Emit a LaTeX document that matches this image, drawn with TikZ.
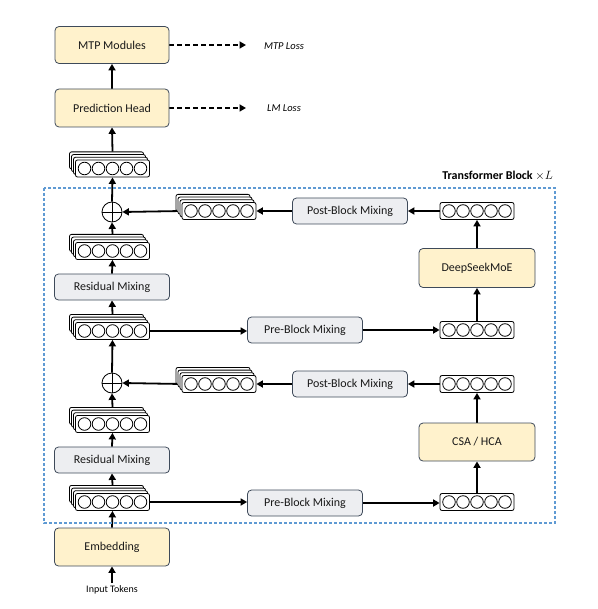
\documentclass[tikz,border=0pt]{standalone}
\usepackage{fontspec}
\setmainfont{Carlito}
\usetikzlibrary{arrows.meta,calc,backgrounds}
\definecolor{yfill}{HTML}{FFF2CC}
\definecolor{gfill}{HTML}{EDEEF1}
\definecolor{bord}{HTML}{3E4A5A}
\definecolor{dashblue}{HTML}{5F9AD3}
\tikzset{
  ybox/.style={draw=bord, fill=yfill, rounded corners=4pt, line width=0.8pt, font=\fontsize{12}{14}\selectfont, text=black!90},
  gbox/.style={draw=bord, fill=gfill, rounded corners=4pt, line width=0.8pt, font=\fontsize{12}{14}\selectfont, text=black!90, minimum width=115pt, minimum height=26pt},
  vecnode/.style={draw=black, fill=white, rounded corners=2pt, line width=0.8pt, minimum width=74pt, minimum height=17pt, inner sep=0pt},
  conn/.style={line width=1.8pt, -{Triangle[length=6.5pt,width=7pt]}},
  dconn/.style={line width=1.8pt, dash pattern=on 5pt off 3pt, -{Triangle[length=6.5pt,width=7pt]}},
  lossl/.style={font=\fontsize{10.5}{12}\selectfont\itshape}
}
\newcommand\singlevec[3]{%
  \node[vecnode] (#1) at (#2,#3) {};
  \foreach \i in {-2,...,2}{\draw[line width=0.8pt] ([xshift=\i*14pt]#1.center) circle (6.3pt);}
}
\newcommand\stackvec[3]{%
  \foreach \k in {3,2,1}{\node[vecnode] at ($(#2,#3)+(-2*\k,-2.7*\k)$) {};}
  \singlevec{#1}{#2}{#3}
}
\begin{document}
\begin{tikzpicture}[x=1pt,y=-1pt]
\useasboundingbox (0,0) rectangle (597,609);
% transformer block frame
\draw[dashblue, line width=1.2pt, dash pattern=on 3pt off 2pt] (44,188) rectangle (555,523);
\node[anchor=south east, inner sep=0pt, font=\fontsize{12}{14}\selectfont\bfseries] (tb) at (553,181) {Transformer Block $\times L$};

% left column boxes
\node[ybox, minimum width=114pt, minimum height=37pt] (mtp) at (112,45) {MTP Modules};
\node[ybox, minimum width=114pt, minimum height=38pt] (ph) at (112,108) {Prediction Head};
\node[lossl] (mtploss) at (284,46) {MTP Loss};
\node[lossl] (lmloss) at (284,108) {LM Loss};
\node[ybox, minimum width=115pt, minimum height=38pt] (emb) at (112,547) {Embedding};
\node[font=\fontsize{10}{12}\selectfont, inner sep=1pt] (inp) at (112,590) {Input Tokens};

\node[gbox] (r2) at (112,287) {Residual Mixing};
\node[gbox] (r1) at (112,460) {Residual Mixing};
\node[gbox] (p2) at (305,330) {Pre-Block Mixing};
\node[gbox] (p1) at (305,503) {Pre-Block Mixing};
\node[gbox] (q2) at (350,211) {Post-Block Mixing};
\node[gbox] (q1) at (350,384) {Post-Block Mixing};
\node[ybox, minimum width=116pt, minimum height=39pt] (moe) at (477,268) {DeepSeekMoE};
\node[ybox, minimum width=116pt, minimum height=38pt] (csa) at (477,442) {CSA / HCA};

% vectors
\stackvec{s5}{112.5}{168.5}
\stackvec{s4}{112.5}{251}
\stackvec{s3}{112.5}{331}
\stackvec{s2}{112.5}{424}
\stackvec{s1}{112.5}{502}
\stackvec{t2}{219}{211}
\stackvec{t1}{219}{384}
\singlevec{v4}{477}{211}
\singlevec{v3}{477}{330}
\singlevec{v2}{477}{384}
\singlevec{v1}{477}{502}

% adders
\foreach \n/\y in {o2/212,o1/383}{
  \node[circle, draw, line width=0.8pt, minimum size=20pt, inner sep=0pt, fill=white] (\n) at (112,\y) {};
  \draw[line width=0.8pt] (\n.north) -- (\n.south) (\n.west) -- (\n.east);
}

\begin{scope}[on background layer]
\draw[conn, shorten <=1.5pt] (inp.north) -- (emb.south);
\draw[conn] (emb.north) -- (s1.south);
\draw[conn] ($(s1.north)+(0,-8)$) -- (r1.south);
\draw[conn] (r1.north) -- (s2.south);
\draw[conn] ($(s2.north)+(0,-8)$) -- (o1.south);
\draw[conn] (o1.north) -- (s3.south);
\draw[conn] ($(s3.north)+(0,-8)$) -- (r2.south);
\draw[conn] (r2.north) -- (s4.south);
\draw[conn] ($(s4.north)+(0,-8)$) -- (o2.south);
\draw[conn] (o2.north) -- (s5.south);
\draw[conn] ($(s5.north)+(0,-8)$) -- (ph.south);
\draw[conn] (ph.north) -- (mtp.south);
\draw[dconn] (mtp.east) -- (mtp.east -| 246,0);
\draw[dconn] (ph.east) -- (ph.east -| 246,0);
% lower block
\draw[conn] (s1.east) -- (s1.east -| p1.west);
\draw[conn] (p1.east) -- (p1.east -| v1.west);
\draw[conn] (v1.north) -- (csa.south);
\draw[conn] (csa.north) -- (v2.south);
\draw[conn] (v2.west) -- (v2.west -| q1.east);
\draw[conn] (q1.west) -- (q1.west -| t1.east);
\draw[conn] (t1.west) -- (o1.east);
% upper block
\draw[conn] (s3.east) -- (s3.east -| p2.west);
\draw[conn] (p2.east) -- (p2.east -| v3.west);
\draw[conn] (v3.north) -- (moe.south);
\draw[conn] (moe.north) -- (v4.south);
\draw[conn] (v4.west) -- (v4.west -| q2.east);
\draw[conn] (q2.west) -- (q2.west -| t2.east);
\draw[conn] (t2.west) -- (o2.east);
\end{scope}
\end{tikzpicture}
\end{document}
